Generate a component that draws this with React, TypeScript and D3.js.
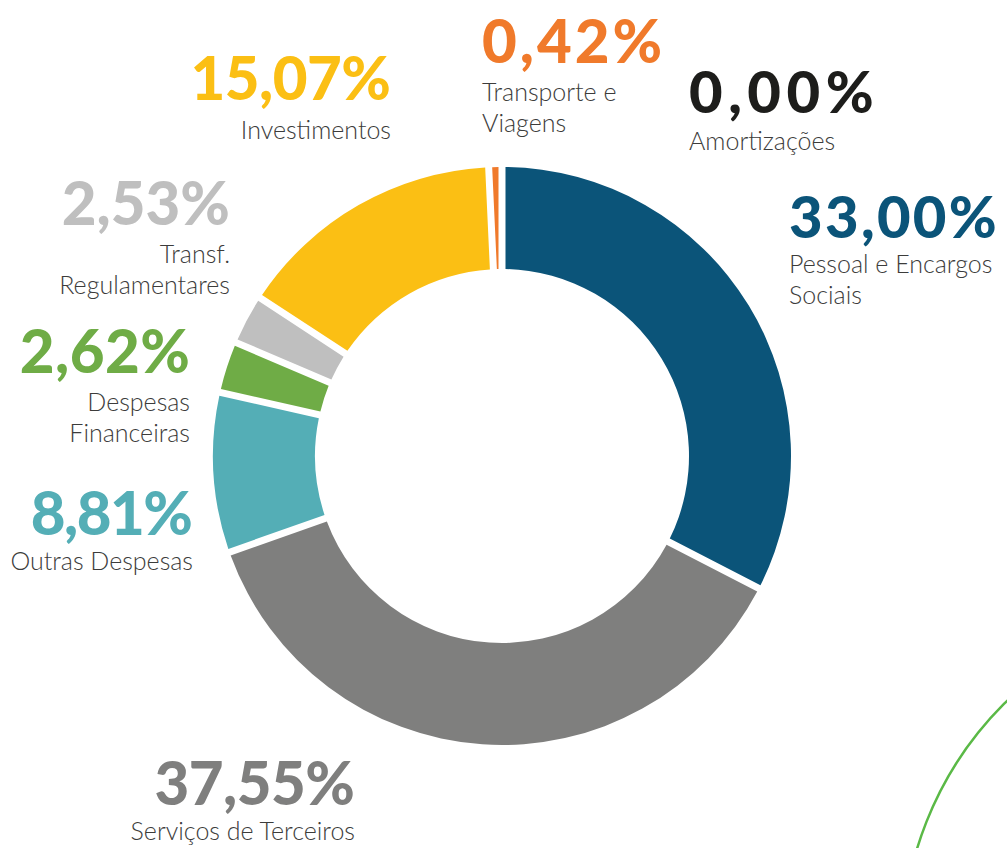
import React from "react";
import * as d3 from "d3";

// ---- data ----
const categories = [
  "Pessoal e Encargos Sociais",
  "Serviços de Terceiros",
  "Outras Despesas",
  "Despesas Financeiras",
  "Transf. Regulamentares",
  "Investimentos",
  "Transporte e Viagens",
  "Amortizações",
];
const values = [33.0, 37.55, 8.81, 2.62, 2.53, 15.07, 0.42, 0.0];
const labelLines = [
  ["Pessoal e Encargos", "Sociais"],
  ["Serviços de Terceiros"],
  ["Outras Despesas"],
  ["Despesas", "Financeiras"],
  ["Transf.", "Regulamentares"],
  ["Investimentos"],
  ["Transporte e", "Viagens"],
  ["Amortizações"],
];

// ---- styles / layout ----
const colors = ["#0b5479", "#7f7f7e", "#54aeb6", "#6fac46", "#bfbfbf", "#fbbf14", "#f07a2b", "#1d1d1b"];
const W = 1007;
const H = 848;
const cx = 502;
const cy = 456;
const rOuter = 289;
const rInner = 187;
const gap = 7;

// label anchor: x, baseline of percent, anchor, offset to first sub-line, percent font size, letter spacing
const labelLayout: { x: number; y: number; anchor: "start" | "end"; off: number; fs: number; ls: number }[] = [
  { x: 789, y: 238, anchor: "start", off: 35, fs: 58, ls: 2.3 },
  { x: 355, y: 805, anchor: "end", off: 35, fs: 60, ls: -0.5 },
  { x: 193, y: 535, anchor: "end", off: 35, fs: 60, ls: -1.5 },
  { x: 190, y: 373, anchor: "end", off: 38, fs: 60, ls: 0.5 },
  { x: 230, y: 225, anchor: "end", off: 38, fs: 60, ls: 0 },
  { x: 391, y: 100, anchor: "end", off: 39, fs: 60, ls: -0.5 },
  { x: 482, y: 63, anchor: "start", off: 38, fs: 60, ls: 3 },
  { x: 689, y: 113, anchor: "start", off: 37, fs: 58, ls: 5.5 },
];
const subLineHeight = 31;

const fmt = (v: number) => d3.format(".2f")(v).replace(".", ",") + "%";

export default function App() {
  const padRadius = Math.sqrt(rOuter * rOuter + rInner * rInner);
  const items = values.map((v, i) => ({ v, i })).filter((d) => d.v > 0);
  const pie = d3
    .pie<{ v: number; i: number }>()
    .sort(null)
    .value((d) => d.v)
    .padAngle(gap / padRadius);
  const arcs = pie(items);
  const arc = d3
    .arc<d3.PieArcDatum<{ v: number; i: number }>>()
    .innerRadius(rInner)
    .outerRadius(rOuter)
    .padRadius(padRadius);

  return (
    <svg
      width={W}
      height={H}
      viewBox={`0 0 ${W} ${H}`}
      style={{ position: "absolute", left: 0, top: 0, display: "block", background: "#ffffff" }}
    >
      <circle cx={1250} cy={950} r={348} fill="none" stroke="#5ab946" strokeWidth={2.5} />
      <g transform={`translate(${cx},${cy})`}>
        {arcs.map((a) => (
          <path key={a.data.i} d={arc(a) || ""} fill={colors[a.data.i]} />
        ))}
      </g>
      {categories.map((c, i) => {
        const L = labelLayout[i];
        return (
          <g key={c}>
            <text
              x={L.anchor === "end" ? L.x + L.ls : L.x}
              y={L.y}
              textAnchor={L.anchor}
              fill={colors[i]}
              style={{ fontFamily: "Lato, sans-serif", fontWeight: 900, fontSize: L.fs, letterSpacing: L.ls }}
            >
              {fmt(values[i])}
            </text>
            {labelLines[i].map((line, j) => (
              <text
                key={j}
                x={L.x}
                y={L.y + L.off + j * subLineHeight}
                textAnchor={L.anchor}
                fill="#3c3c3b"
                style={{ fontFamily: "Lato, sans-serif", fontWeight: 300, fontSize: 25 }}
              >
                {line}
              </text>
            ))}
          </g>
        );
      })}
    </svg>
  );
}
